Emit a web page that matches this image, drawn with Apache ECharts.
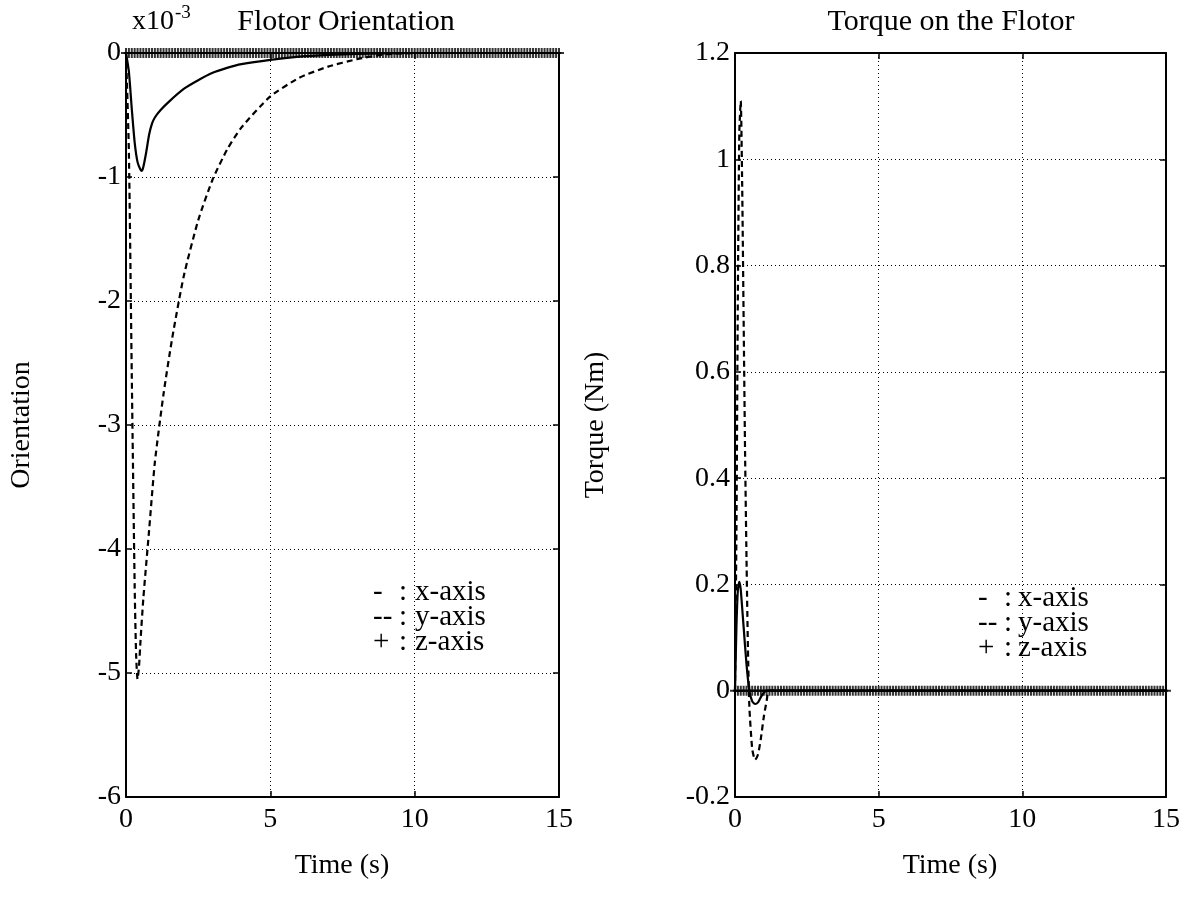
<!DOCTYPE html>
<html>
<head>
<meta charset="utf-8">
<script src="https://cdn.jsdelivr.net/npm/echarts/dist/echarts.min.js"></script>
<style>
html, body { margin:0; padding:0; background:#fff; }
#chart { width:1188px; height:901px; }
</style>
</head>
<body>
<div id="chart"></div>
<script>
// tick labels
var timeTicks = [0, 5, 10, 15];
var orientTicks = [-6, -5, -4, -3, -2, -1, 0];
var torqueTicks = [-0.2, 0, 0.2, 0.4, 0.6, 0.8, 1, 1.2];

// Flotor orientation (x10^-3)
var orientXTime = [0, 0.1, 0.2, 0.3, 0.4, 0.5, 0.55, 0.6, 0.7, 0.8, 0.9, 1.0, 1.2, 1.5, 2.0, 2.5, 3.0, 3.5, 4.0, 5.0, 6.0, 7.0, 8.0, 9.0, 10, 15];
var orientX = [0, -0.15, -0.45, -0.72, -0.88, -0.94, -0.95, -0.92, -0.8, -0.66, -0.57, -0.52, -0.46, -0.39, -0.29, -0.22, -0.16, -0.12, -0.09, -0.055, -0.03, -0.015, -0.007, -0.003, 0, 0];
var orientYTime = [0, 0.1, 0.2, 0.3, 0.35, 0.4, 0.45, 0.5, 0.6, 0.8, 1.0, 1.3, 1.6, 2.0, 2.5, 3.0, 3.5, 4.0, 5.0, 6.0, 7.0, 8.0, 9.0, 10, 15];
var orientY = [0, -0.8, -2.6, -4.3, -4.85, -5.05, -4.95, -4.75, -4.4, -3.85, -3.3, -2.75, -2.3, -1.8, -1.35, -1.02, -0.78, -0.6, -0.35, -0.2, -0.11, -0.05, -0.01, 0, 0];

// Torque on the flotor (Nm)
var torqueXTime = [0, 0.05, 0.1, 0.15, 0.2, 0.3, 0.4, 0.5, 0.6, 0.7, 0.8, 0.9, 1.0, 1.1, 15];
var torqueX = [0, 0.12, 0.19, 0.205, 0.19, 0.12, 0.05, 0.0, -0.02, -0.025, -0.022, -0.012, -0.004, 0, 0];
var torqueYTime = [0, 0.05, 0.1, 0.15, 0.2, 0.25, 0.3, 0.35, 0.4, 0.45, 0.5, 0.6, 0.7, 0.8, 0.9, 1.0, 1.1, 1.2, 15];
var torqueY = [0, 0.3, 0.75, 1.05, 1.11, 0.95, 0.7, 0.45, 0.25, 0.08, -0.03, -0.11, -0.13, -0.12, -0.09, -0.05, -0.02, 0, 0];

// z-axis samples ('+' markers), both plots stay at zero
var zTimes = [
  0, 0.1, 0.2, 0.3, 0.4, 0.5, 0.6, 0.7, 0.8, 0.9,
  1, 1.1, 1.2, 1.3, 1.4, 1.5, 1.6, 1.7, 1.8, 1.9,
  2, 2.1, 2.2, 2.3, 2.4, 2.5, 2.6, 2.7, 2.8, 2.9,
  3, 3.1, 3.2, 3.3, 3.4, 3.5, 3.6, 3.7, 3.8, 3.9,
  4, 4.1, 4.2, 4.3, 4.4, 4.5, 4.6, 4.7, 4.8, 4.9,
  5, 5.1, 5.2, 5.3, 5.4, 5.5, 5.6, 5.7, 5.8, 5.9,
  6, 6.1, 6.2, 6.3, 6.4, 6.5, 6.6, 6.7, 6.8, 6.9,
  7, 7.1, 7.2, 7.3, 7.4, 7.5, 7.6, 7.7, 7.8, 7.9,
  8, 8.1, 8.2, 8.3, 8.4, 8.5, 8.6, 8.7, 8.8, 8.9,
  9, 9.1, 9.2, 9.3, 9.4, 9.5, 9.6, 9.7, 9.8, 9.9,
  10, 10.1, 10.2, 10.3, 10.4, 10.5, 10.6, 10.7, 10.8, 10.9,
  11, 11.1, 11.2, 11.3, 11.4, 11.5, 11.6, 11.7, 11.8, 11.9,
  12, 12.1, 12.2, 12.3, 12.4, 12.5, 12.6, 12.7, 12.8, 12.9,
  13, 13.1, 13.2, 13.3, 13.4, 13.5, 13.6, 13.7, 13.8, 13.9,
  14, 14.1, 14.2, 14.3, 14.4, 14.5, 14.6, 14.7, 14.8, 14.9,
  15
];
var zValue = 0;

var legendMarks = ['-', '--', '+'];
var legendLabels = ['x-axis', 'y-axis', 'z-axis'];

var FONT = "'Liberation Serif', 'Times New Roman', serif";
var BLACK = '#000';

function pairs(xs, ys) {
  return xs.map(function (x, i) { return [x, ys[i]]; });
}

function xAxisFor(grid, pos, main) {
  return {
    type: 'value', gridIndex: grid, position: pos,
    min: timeTicks[0], max: timeTicks[timeTicks.length - 1], interval: timeTicks[1] - timeTicks[0],
    axisLine: { show: true, onZero: false, lineStyle: { color: BLACK, width: 2 } },
    axisTick: { show: true, inside: true, length: 6, lineStyle: { color: BLACK, width: 1.5 } },
    axisLabel: { show: main, color: BLACK, fontFamily: FONT, fontSize: 28, margin: 9 },
    splitLine: { show: main, lineStyle: { color: BLACK, width: 1, type: [1, 3] } }
  };
}

function yAxisFor(grid, pos, main, ticks) {
  return {
    type: 'value', gridIndex: grid, position: pos,
    min: ticks[0], max: ticks[ticks.length - 1], interval: ticks[1] - ticks[0],
    axisLine: { show: true, onZero: false, lineStyle: { color: BLACK, width: 2 } },
    axisTick: { show: true, inside: true, length: 6, lineStyle: { color: BLACK, width: 1.5 } },
    axisLabel: {
      show: main, color: BLACK, fontFamily: FONT, fontSize: 28, margin: 5,
      formatter: function (v) { return String(+v.toFixed(1)); }
    },
    splitLine: { show: main, lineStyle: { color: BLACK, width: 1, type: [1, 3] } }
  };
}

function solid(xi, data) {
  return { type: 'line', xAxisIndex: xi, yAxisIndex: xi, data: data, showSymbol: false, smooth: 0.2,
    lineStyle: { color: BLACK, width: 2.2 }, itemStyle: { color: BLACK }, z: 4 };
}
function dashed(xi, data) {
  return { type: 'line', xAxisIndex: xi, yAxisIndex: xi, data: data, showSymbol: false, smooth: 0.2,
    lineStyle: { color: BLACK, width: 2.2, type: [6, 4] }, itemStyle: { color: BLACK }, z: 4 };
}
function plus(xi) {
  return {
    type: 'scatter', xAxisIndex: xi, yAxisIndex: xi, clip: false, silent: true, z: 5,
    data: zTimes.map(function (t) { return [t, zValue]; }),
    symbol: 'path://M0,5L10,5M5,0L5,10', symbolSize: 10,
    itemStyle: { color: 'none', borderColor: BLACK, borderWidth: 2 }
  };
}

function txt(x, y, s, size, align, rot) {
  return {
    type: 'text', x: x, y: y, rotation: rot || 0, z: 10,
    style: { text: s, fontFamily: FONT, fontSize: size, fill: BLACK, align: align || 'center', verticalAlign: 'middle' }
  };
}

function legendBlock(markX, colonX, labelX, y0) {
  var out = [];
  legendMarks.forEach(function (m, i) {
    var y = y0 + i * 25;
    out.push(txt(markX, y, m, 29, 'left'));
    out.push(txt(colonX, y, ':', 29, 'left'));
    out.push(txt(labelX, y, legendLabels[i], 29, 'left'));
  });
  return out;
}

var chart = echarts.init(document.getElementById('chart'));

var graphics = [
  txt(346, 22, 'Flotor Orientation', 30),
  txt(132, 22, 'x10', 28, 'left'),
  txt(175, 13, '-3', 19, 'left'),
  txt(951, 22, 'Torque on the Flotor', 30),
  txt(342, 866, 'Time (s)', 28),
  txt(950, 866, 'Time (s)', 28),
  txt(22, 425, 'Orientation', 28, 'center', Math.PI / 2),
  txt(596, 425, 'Torque (Nm)', 28, 'center', Math.PI / 2)
].concat(legendBlock(373, 399, 415, 592)).concat(legendBlock(978, 1004, 1018, 598));

chart.setOption({
  animation: false,
  backgroundColor: '#fff',
  grid: [
    { left: 126, top: 53, width: 433, height: 744 },
    { left: 735, top: 53, width: 431, height: 744 }
  ],
  xAxis: [xAxisFor(0, 'bottom', true), xAxisFor(0, 'top', false), xAxisFor(1, 'bottom', true), xAxisFor(1, 'top', false)],
  yAxis: [yAxisFor(0, 'left', true, orientTicks), yAxisFor(0, 'right', false, orientTicks),
          yAxisFor(1, 'left', true, torqueTicks), yAxisFor(1, 'right', false, torqueTicks)],
  series: [
    solid(0, pairs(orientXTime, orientX)),
    dashed(0, pairs(orientYTime, orientY)),
    plus(0),
    solid(2, pairs(torqueXTime, torqueX)),
    dashed(2, pairs(torqueYTime, torqueY)),
    plus(2)
  ],
  graphic: graphics
});
</script>
</body>
</html>
